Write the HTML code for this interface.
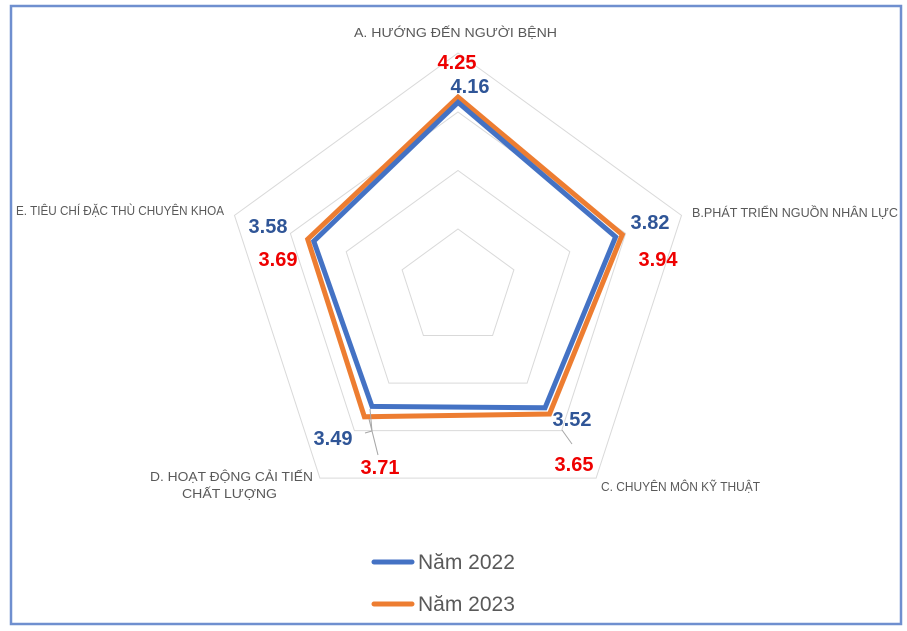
<!DOCTYPE html>
<html><head><meta charset="utf-8"><style>
body{margin:0;background:#fff;}
svg{display:block;}
text{font-family:"Liberation Sans",sans-serif;}
.ax{font-size:12.5px;fill:#595959;}
.v{font-size:20px;font-weight:bold;}
.b{fill:#2f5597;}.r{fill:#ee0000;}
</style></head><body>
<svg width="907" height="631" viewBox="0 0 907 631">
<rect x="11" y="6" width="890" height="618" fill="#fff" stroke="#6f8fcf" stroke-width="2.5"/>
<g fill="none" stroke="#d9d9d9" stroke-width="1">
<polygon points="458,53 681.5,215.4 596.1,478.1 319.9,478.1 234.5,215.4"/>
<polygon points="458,112 625.6,233.5 561.6,430.6 354.4,430.6 290.4,233.5"/>
<polygon points="458,170.5 569.8,251.7 527.1,383.1 388.9,383.1 346.2,251.7"/>
<polygon points="458,229 513.9,269.8 492.6,335.5 423.4,335.5 402.1,269.8"/>
</g>
<polygon points="458,97.1 622.3,234.6 549.5,414 364.4,416.8 307.7,239.2" fill="none" stroke="#ed7d31" stroke-width="5"/>
<polygon points="458,102.4 615.6,236.8 545,407.8 372,406.4 313.8,241.2" fill="none" stroke="#4472c4" stroke-width="5"/>
<g stroke="#a6a6a6" stroke-width="1" fill="none">
<polyline points="370,409 372,431 365,433"/>
<polyline points="369,419 378,455"/>
<line x1="562" y1="430" x2="572" y2="444"/>
</g>
<text class="ax" x="354" y="37" textLength="203" lengthAdjust="spacingAndGlyphs">A. HƯỚNG ĐẾN NGƯỜI BỆNH</text>
<text class="ax" x="692" y="217" textLength="206" lengthAdjust="spacingAndGlyphs">B.PHÁT TRIỂN NGUỒN NHÂN LỰC</text>
<text class="ax" x="601" y="491" textLength="159" lengthAdjust="spacingAndGlyphs">C. CHUYÊN MÔN KỸ THUẬT</text>
<text class="ax" x="150" y="481" textLength="163" lengthAdjust="spacingAndGlyphs">D. HOẠT ĐỘNG CẢI TIẾN</text>
<text class="ax" x="182" y="498" textLength="95" lengthAdjust="spacingAndGlyphs">CHẤT LƯỢNG</text>
<text class="ax" x="16" y="215" textLength="208" lengthAdjust="spacingAndGlyphs">E. TIÊU CHÍ ĐẶC THÙ CHUYÊN KHOA</text>
<text class="v r" x="457" y="69" text-anchor="middle">4.25</text>
<text class="v b" x="470" y="93" text-anchor="middle">4.16</text>
<text class="v b" x="650" y="229" text-anchor="middle">3.82</text>
<text class="v r" x="658" y="266" text-anchor="middle">3.94</text>
<text class="v b" x="268" y="233" text-anchor="middle">3.58</text>
<text class="v r" x="278" y="266" text-anchor="middle">3.69</text>
<text class="v b" x="572" y="426" text-anchor="middle">3.52</text>
<text class="v r" x="574" y="471" text-anchor="middle">3.65</text>
<text class="v b" x="333" y="445" text-anchor="middle">3.49</text>
<text class="v r" x="380" y="474" text-anchor="middle">3.71</text>
<line x1="374" y1="562" x2="412" y2="562" stroke="#4472c4" stroke-width="5" stroke-linecap="round"/>
<text x="418" y="569" font-size="21" fill="#595959">Năm 2022</text>
<line x1="374" y1="604" x2="412" y2="604" stroke="#ed7d31" stroke-width="5" stroke-linecap="round"/>
<text x="418" y="611" font-size="21" fill="#595959">Năm 2023</text>
</svg>
</body></html>
